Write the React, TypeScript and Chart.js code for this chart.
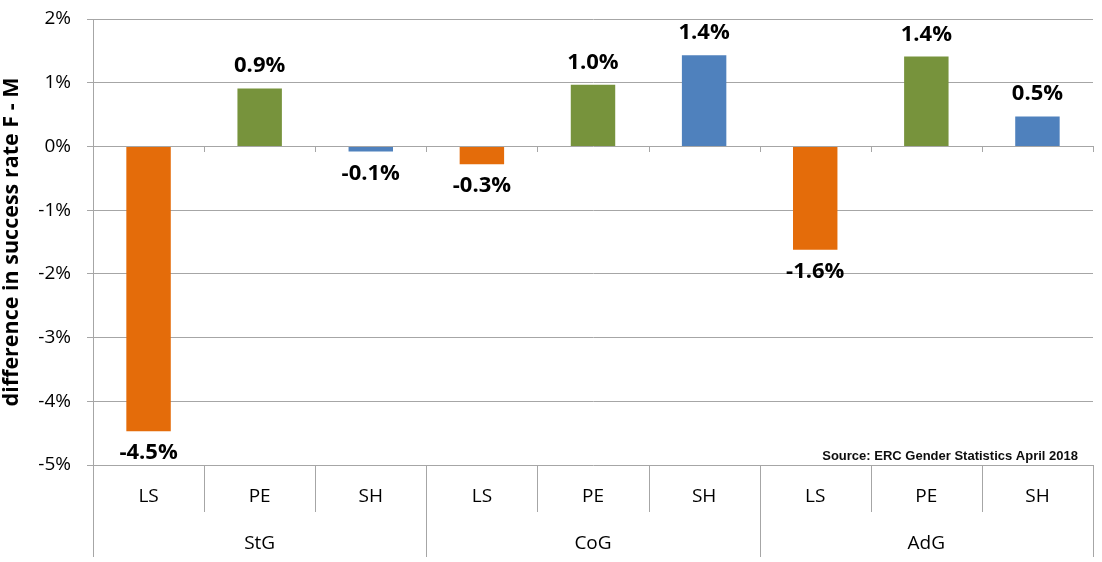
import React, { useEffect, useRef } from 'react';
import { Chart, registerables } from 'chart.js';

Chart.register(...registerables);

const groups = ['StG', 'CoG', 'AdG'];
const fields = ['LS', 'PE', 'SH', 'LS', 'PE', 'SH', 'LS', 'PE', 'SH'];
const values = [-4.47, 0.91, -0.08, -0.28, 0.97, 1.43, -1.62, 1.41, 0.47];
const fieldColors: Record<string, string> = { LS: '#E46C0A', PE: '#77933C', SH: '#4F81BD' };
const yMin = -5;
const yMax = 2;
const yStep = 1;
const yTitle = 'difference in success rate F - M';
const sourceNote = 'Source: ERC Gender Statistics April 2018';

const LINE = '#a6a6a6';
const FONT = '"Open Sans", sans-serif';

const decorPlugin = {
  id: 'decor',
  afterDraw(chart: any) {
    const { ctx, chartArea } = chart;
    const xs = chart.scales.x;
    const x2 = chart.scales.x2;
    const ys = chart.scales.y;
    const n = fields.length;
    const half = (xs.getPixelForValue(1) - xs.getPixelForValue(0)) / 2;
    const y0 = ys.getPixelForValue(0);
    ctx.save();
    ctx.strokeStyle = LINE;
    ctx.lineWidth = 1;
    for (let i = 0; i <= n; i++) {
      const px = Math.round(i < n ? xs.getPixelForValue(i) - half : xs.getPixelForValue(n - 1) + half) + 0.5;
      const yEnd = i % 3 === 0 ? x2.bottom : xs.bottom;
      ctx.beginPath();
      ctx.moveTo(px, chartArea.bottom);
      ctx.lineTo(px, yEnd);
      ctx.stroke();
      if (i > 0) {
        ctx.beginPath();
        ctx.moveTo(px, Math.round(y0));
        ctx.lineTo(px, Math.round(y0) + 6);
        ctx.stroke();
      }
    }
    // data labels
    const meta = chart.getDatasetMeta(0);
    ctx.fillStyle = '#000';
    ctx.font = `bold 22px ${FONT}`;
    ctx.textAlign = 'center';
    ctx.textBaseline = 'alphabetic';
    meta.data.forEach((bar: any, i: number) => {
      const v = values[i];
      const label = v.toFixed(1) + '%';
      if (v >= 0) {
        ctx.fillText(label, bar.x, bar.y - 16);
      } else {
        ctx.fillText(label, bar.x, bar.y + 28);
      }
    });
    // source
    ctx.font = `bold 13px "Liberation Sans", Arial, sans-serif`;
    ctx.textAlign = 'right';
    ctx.fillStyle = '#0d0d0d';
    ctx.fillText(sourceNote, chartArea.right - 15, chartArea.bottom - 5);
    // y axis title
    ctx.save();
    ctx.translate(12, (chartArea.top + chartArea.bottom) / 2);
    ctx.rotate(-Math.PI / 2);
    ctx.font = `bold 21.5px ${FONT}`;
    ctx.fillStyle = '#000';
    ctx.textAlign = 'center';
    ctx.textBaseline = 'middle';
    ctx.fillText(yTitle, 0, 0);
    ctx.restore();
    ctx.restore();
  },
};

export default function App() {
  const ref = useRef<HTMLCanvasElement | null>(null);
  useEffect(() => {
    if (!ref.current) return;
    const chart = new Chart(ref.current, {
      type: 'bar',
      data: {
        labels: fields,
        datasets: [
          {
            data: values,
            backgroundColor: fields.map((f) => fieldColors[f]),
            barPercentage: 0.4,
            categoryPercentage: 1,
            xAxisID: 'x',
            yAxisID: 'y',
          },
        ],
      },
      options: {
        animation: false,
        responsive: true,
        maintainAspectRatio: false,
        layout: { padding: { top: 19, right: 9, bottom: 5, left: 0 } },
        plugins: { legend: { display: false }, tooltip: { enabled: false } },
        scales: {
          x: {
            type: 'category',
            position: 'bottom',
            offset: true,
            grid: { display: false, drawTicks: false },
            border: { display: false },
            ticks: { color: '#000', font: { family: FONT, size: 19 }, padding: 20, maxRotation: 0 },
            afterFit: (s: any) => { s.height = 47; },
          },
          x2: {
            type: 'category',
            position: 'bottom',
            labels: groups,
            offset: true,
            grid: { display: false, drawTicks: false },
            border: { display: false },
            ticks: { color: '#000', font: { family: FONT, size: 19 }, padding: 20, maxRotation: 0 },
            afterFit: (s: any) => { s.height = 45; },
          },
          y: {
            min: yMin,
            max: yMax,
            ticks: {
              stepSize: yStep,
              color: '#000',
              font: { family: FONT, size: 19 },
              padding: 16,
              callback: (v: any) => `${v}%`,
            },
            grid: { color: LINE, tickLength: 6, drawTicks: true },
            border: { display: true, color: LINE },
            title: { display: false, text: yTitle },
            afterFit: (s: any) => { s.width = 93; s.paddingTop = 0; s.paddingBottom = 0; },
          },
        },
      },
      plugins: [decorPlugin],
    } as any);
    return () => chart.destroy();
  }, []);
  return (
    <div style={{ position: 'fixed', left: 0, top: 0, width: 1102, height: 562, background: '#fff' }}>
      <canvas ref={ref} />
    </div>
  );
}
